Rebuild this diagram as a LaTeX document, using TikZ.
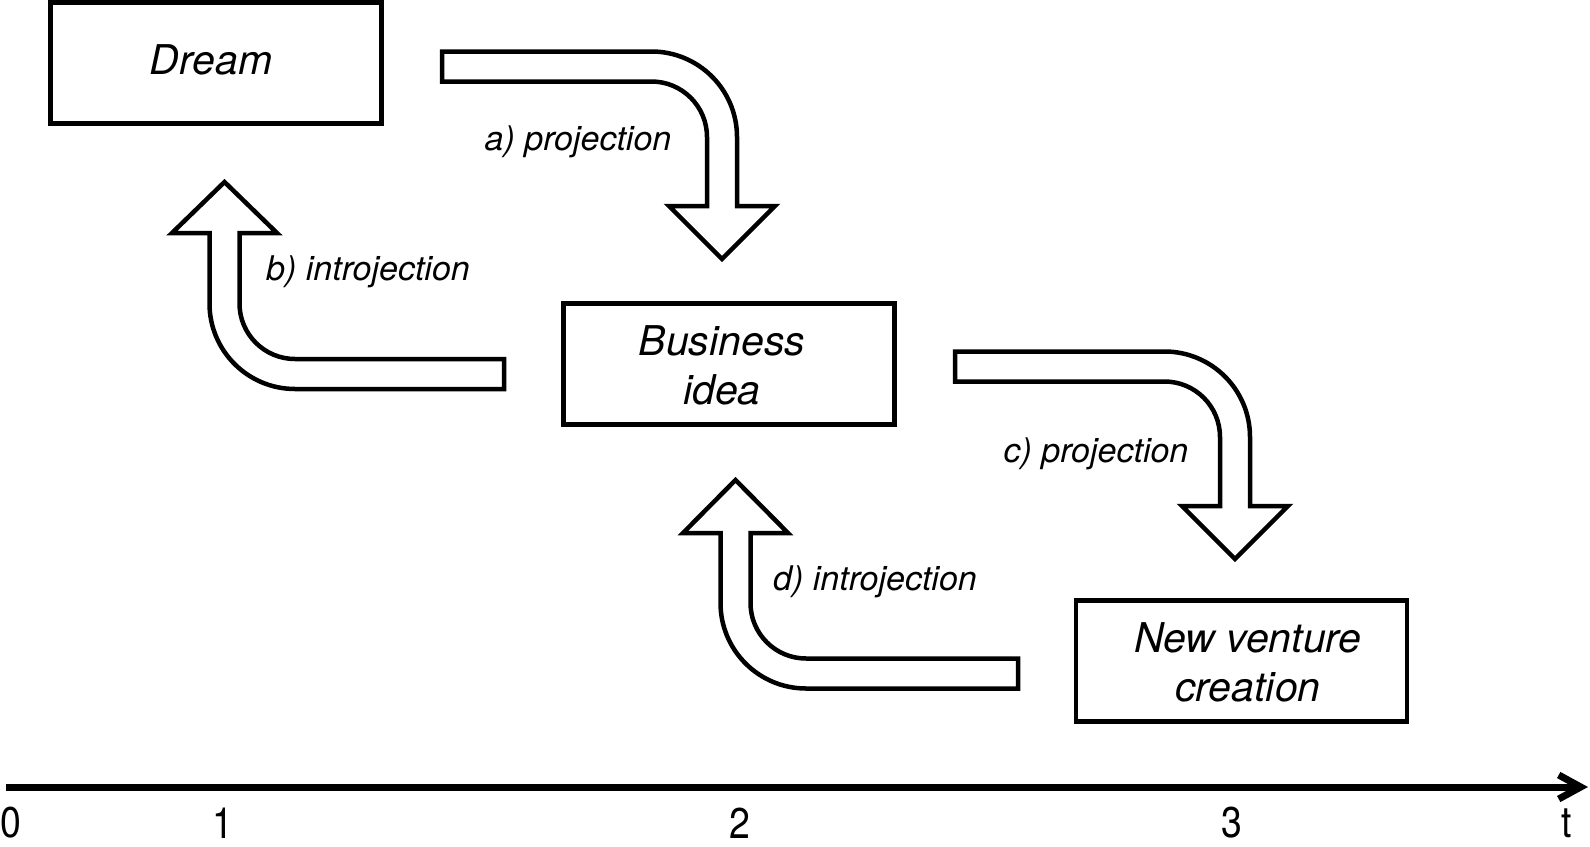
\documentclass[tikz,border=0pt]{standalone}
\usepackage{fontspec}
\setmainfont{TeX Gyre Heros}
\newfontfamily\axisfont[FakeStretch=0.87]{TeX Gyre Heros}
\usetikzlibrary{arrows.meta}
\begin{document}
\begin{tikzpicture}[x=1pt,y=-1pt,
  box/.style={draw,line width=4.5pt,minimum width=331pt,minimum height=121pt,inner sep=0pt},
  boxtext/.style={inner sep=0pt,align=center,font=\fontsize{41}{49}\selectfont\itshape},
  lbl/.style={anchor=base,inner sep=0pt,font=\fontsize{34}{40}\selectfont\itshape},
  blockarrow/.style={draw,line width=4.5pt,fill=white},
  tick/.style={inner sep=0pt,font=\axisfont\fontsize{43}{50}\selectfont},
  axis/.style={line width=7pt,-{Straight Barb[length=22pt,width=24pt]}}]
\useasboundingbox (0,0) rectangle (1590,846);
% boxes
\node[box] (dream) at (216,63) {};
\node[boxtext] (dreamtxt) at (211,59.5) {Dream};
\node[box] (idea) at (729,364) {};
\node[boxtext] (ideatxt) at (722,365) {Business\\idea};
\node[box] (nvc) at (1241.5,661) {};
\node[boxtext] (nvctxt) at (1248,662) {New venture\\creation};
% a) projection
\draw[blockarrow] (442,51.5) -- (651.5,51.5) arc[start angle=-90,end angle=0,radius=85.5]
  -- (737,206) -- (775,206) -- (722,259) -- (669,206) -- (707,206) -- (707,137)
  arc[start angle=0,end angle=-90,radius=55.5] -- (442,81.5) -- cycle;
% b) introjection
\draw[blockarrow] (504,359) -- (295,359) arc[start angle=90,end angle=180,radius=55.5]
  -- (239.5,233) -- (277,233) -- (224.5,182) -- (172,233) -- (209.5,233) -- (209.5,303.5)
  arc[start angle=180,end angle=90,radius=85.5] -- (504,389) -- cycle;
% c) projection
\draw[blockarrow] (955,351.5) -- (1164.5,351.5) arc[start angle=-90,end angle=0,radius=85.5]
  -- (1250,506) -- (1288,506) -- (1235,559) -- (1182,506) -- (1220,506) -- (1220,437)
  arc[start angle=0,end angle=-90,radius=55.5] -- (955,381.5) -- cycle;
% d) introjection
\draw[blockarrow] (1018,658.5) -- (806,658.5) arc[start angle=90,end angle=180,radius=55.5]
  -- (750.5,533) -- (788,533) -- (735.5,480) -- (683,533) -- (720.5,533) -- (720.5,603)
  arc[start angle=180,end angle=90,radius=85.5] -- (1018,688.5) -- cycle;
% labels
\node[lbl] (la) at (578,150) {a) projection};
\node[lbl] (lb) at (368,280) {b) introjection};
\node[lbl] (lc) at (1096,462) {c) projection};
\node[lbl] (ld) at (875,590) {d) introjection};
% time axis
\coordinate (t0) at (6,787);
\coordinate (t1) at (1588,787);
\draw[axis] (t0) -- (t1);
\node[tick] (n0) at (11,823) {0};
\node[tick] (n1) at (223,823) {1};
\node[tick] (n2) at (740,823) {2};
\node[tick] (n3) at (1232,823) {3};
\node[tick] (nt) at (1567,823) {t};
\end{tikzpicture}
\end{document}
